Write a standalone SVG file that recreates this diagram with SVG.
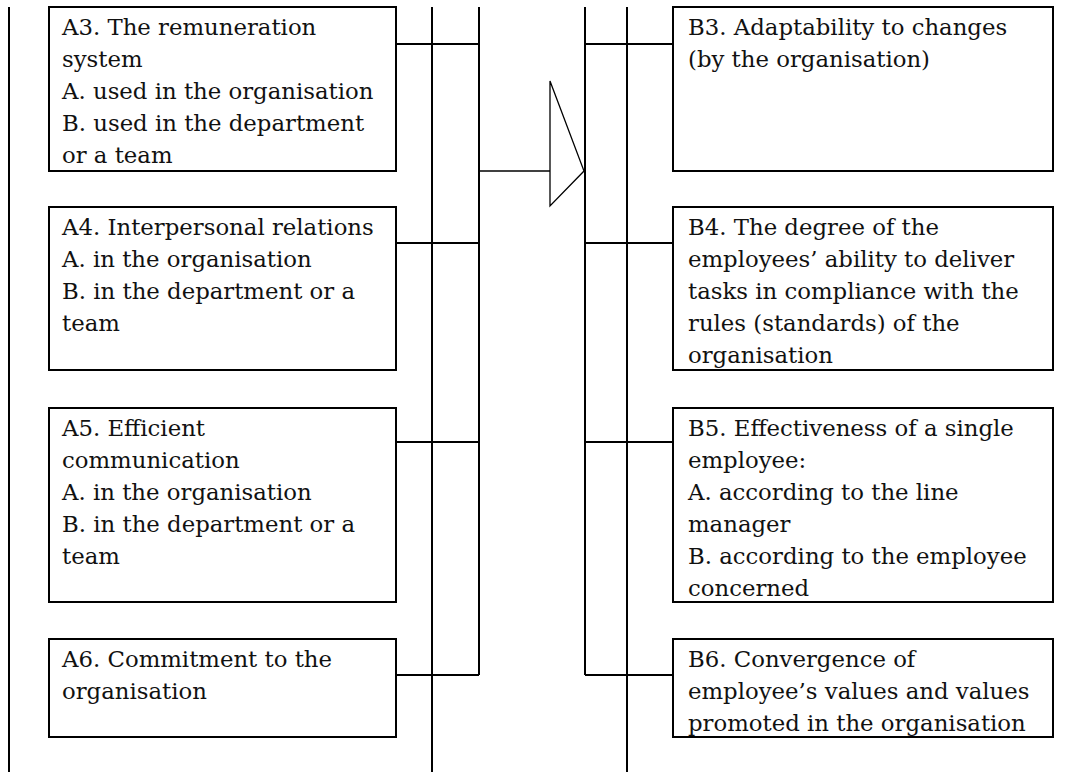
<svg xmlns="http://www.w3.org/2000/svg" width="1077" height="772" viewBox="0 0 1077 772">
  <style>
    .box { fill: #fff; stroke: #000; stroke-width: 2; }
    .ln { fill: none; stroke: #000; stroke-width: 2; }
    .thin { fill: none; stroke: #000; stroke-width: 1.3; }
    text { font-family: "DejaVu Serif", "Liberation Serif", serif; font-size: 22.8px; fill: #111; }
  </style>
  <rect width="1077" height="772" fill="#fff"/>

  <!-- connectors: bus lines, branches and the arrow between the two columns -->
  <g id="connectors">
    <line class="ln" x1="9" y1="7" x2="9" y2="772"/>
    <line class="ln" x1="432" y1="7" x2="432" y2="772"/>
    <line class="ln" x1="479" y1="7" x2="479" y2="675"/>
    <line class="ln" x1="396" y1="44" x2="479" y2="44"/>
    <line class="ln" x1="396" y1="243" x2="479" y2="243"/>
    <line class="ln" x1="396" y1="442" x2="479" y2="442"/>
    <line class="ln" x1="396" y1="675" x2="479" y2="675"/>
    <line class="thin" x1="479" y1="171" x2="550" y2="171"/>
    <polygon class="thin" fill="#fff" points="550,81 584,171 550,206"/>
    <line class="ln" x1="585" y1="7" x2="585" y2="675"/>
    <line class="ln" x1="627" y1="7" x2="627" y2="772"/>
    <line class="ln" x1="585" y1="44" x2="673" y2="44"/>
    <line class="ln" x1="585" y1="243" x2="673" y2="243"/>
    <line class="ln" x1="585" y1="442" x2="673" y2="442"/>
    <line class="ln" x1="585" y1="675" x2="673" y2="675"/>
  </g>

  <g id="A3">
    <rect class="box" x="49" y="7" width="347" height="164"/>
    <text x="62" y="35">A3. The remuneration</text>
    <text x="62" y="67">system</text>
    <text x="62" y="99">A. used in the organisation</text>
    <text x="62" y="131">B. used in the department</text>
    <text x="62" y="163">or a team</text>
  </g>
  <g id="A4">
    <rect class="box" x="49" y="207" width="347" height="163"/>
    <text x="62" y="235">A4. Interpersonal relations</text>
    <text x="62" y="267">A. in the organisation</text>
    <text x="62" y="299">B. in the department or a</text>
    <text x="62" y="331">team</text>
  </g>
  <g id="A5">
    <rect class="box" x="49" y="408" width="347" height="194"/>
    <text x="62" y="436">A5. Efficient</text>
    <text x="62" y="468">communication</text>
    <text x="62" y="500">A. in the organisation</text>
    <text x="62" y="532">B. in the department or a</text>
    <text x="62" y="564">team</text>
  </g>
  <g id="A6">
    <rect class="box" x="49" y="639" width="347" height="98"/>
    <text x="62" y="667">A6. Commitment to the</text>
    <text x="62" y="699">organisation</text>
  </g>

  <g id="B3">
    <rect class="box" x="673" y="7" width="380" height="164"/>
    <text x="688" y="35">B3. Adaptability to changes</text>
    <text x="688" y="67">(by the organisation)</text>
  </g>
  <g id="B4">
    <rect class="box" x="673" y="207" width="380" height="163"/>
    <text x="688" y="235">B4. The degree of the</text>
    <text x="688" y="267">employees’ ability to deliver</text>
    <text x="688" y="299">tasks in compliance with the</text>
    <text x="688" y="331">rules (standards) of the</text>
    <text x="688" y="363">organisation</text>
  </g>
  <g id="B5">
    <rect class="box" x="673" y="408" width="380" height="194"/>
    <text x="688" y="436">B5. Effectiveness of a single</text>
    <text x="688" y="468">employee:</text>
    <text x="688" y="500">A. according to the line</text>
    <text x="688" y="532">manager</text>
    <text x="688" y="564">B. according to the employee</text>
    <text x="688" y="596">concerned</text>
  </g>
  <g id="B6">
    <rect class="box" x="673" y="639" width="380" height="98"/>
    <text x="688" y="667">B6. Convergence of</text>
    <text x="688" y="699">employee’s values and values</text>
    <text x="688" y="731">promoted in the organisation</text>
  </g>
</svg>
